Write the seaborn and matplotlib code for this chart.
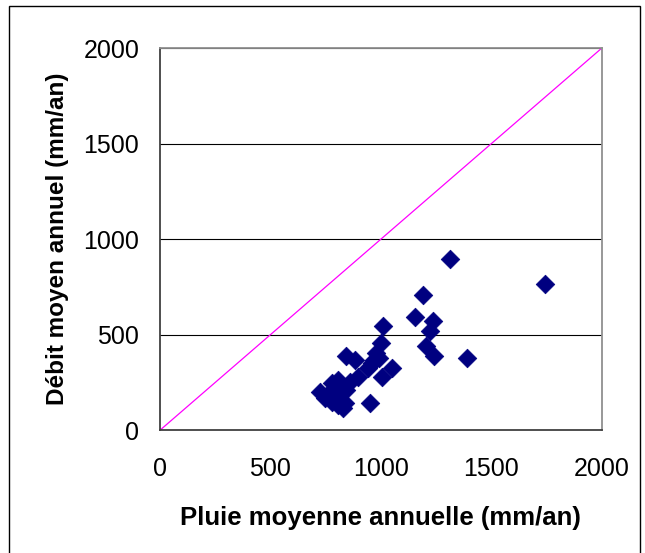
import numpy as np
import pandas as pd
import matplotlib
matplotlib.use('Agg')
import matplotlib.pyplot as plt
import seaborn as sns
from matplotlib.patches import Rectangle

# Pluie moyenne annuelle (mm/an) vs Debit moyen annuel (mm/an)
pluie = [1312, 1745, 1189, 1155, 1237, 1222, 1008, 1204, 1241, 1391,
         1000, 980, 958, 943, 1051, 1003, 897, 840, 882, 807,
         777, 724, 747, 799, 837, 807, 777, 844, 950, 830,
         970, 990, 860, 820, 760]
debit = [895, 767, 707, 595, 572, 517, 544, 442, 386, 377,
         456, 404, 351, 325, 325, 281, 281, 389, 365, 263,
         246, 202, 167, 184, 140, 132, 149, 211, 140, 114,
         370, 380, 250, 220, 190]
ticks = [0, 500, 1000, 1500, 2000]

df = pd.DataFrame({'pluie': pluie, 'debit': debit})

sns.set_style('white')
plt.rcParams['font.family'] = ['Liberation Sans', 'DejaVu Sans']
plt.rcParams['text.color'] = 'black'
plt.rcParams['axes.labelcolor'] = 'black'
plt.rcParams['xtick.color'] = 'black'
plt.rcParams['ytick.color'] = 'black'

fig = plt.figure(figsize=(6.45, 5.53), dpi=100)
ax = fig.add_axes([0.248, 0.222, 0.685, 0.691])

# outer chart border
fig.patches.append(Rectangle((9 / 645, -0.1), 631 / 645, 1.1 - 6 / 553,
                             transform=fig.transFigure, fill=False,
                             edgecolor='black', linewidth=1.0))

for t in ticks[1:]:
    ax.axhline(t, color='black', linewidth=0.8, zorder=0)

ax.plot([0, 2000], [0, 2000], color='#ff00ff', linewidth=0.9, zorder=1)

sns.scatterplot(data=df, x='pluie', y='debit', marker='D', s=90,
                color='#000080', edgecolor='#000080', linewidth=0.5,
                ax=ax, zorder=3, legend=False)

ax.set_xlim(0, 2000)
ax.set_ylim(0, 2000)
ax.set_xticks(ticks)
ax.set_yticks(ticks)
ax.tick_params(axis='x', labelsize=18, length=5, width=1.2,
               color='#404040', direction='out', pad=14)
ax.tick_params(axis='y', labelsize=18, length=6, width=1.2,
               color='#404040', direction='out', pad=9)
for side in ['top', 'right']:
    ax.spines[side].set_color('#909090')
    ax.spines[side].set_linewidth(1.3)
for side in ['bottom', 'left']:
    ax.spines[side].set_color('#404040')
    ax.spines[side].set_linewidth(1.3)

ax.set_xlabel('Pluie moyenne annuelle (mm/an)', fontsize=18.5, fontweight='bold', labelpad=18)
ax.set_ylabel('Débit moyen annuel (mm/an)', fontsize=17.5, fontweight='bold', labelpad=10)

fig.savefig('out.png', dpi=100)
